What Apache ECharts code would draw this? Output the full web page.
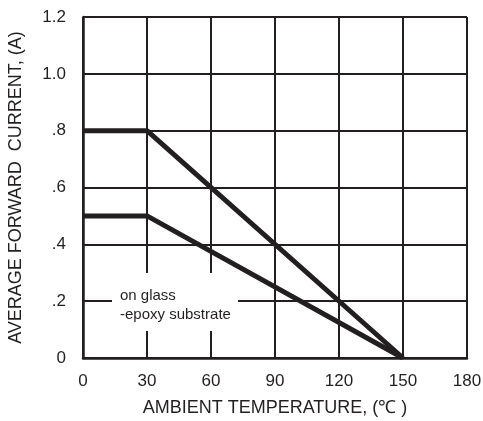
<!DOCTYPE html>
<html><head><meta charset="utf-8">
<script src="https://cdn.jsdelivr.net/npm/echarts@6/dist/echarts.min.js"></script>
<style>html,body{margin:0;padding:0;background:#fff}#c{width:483px;height:421px}</style>
</head><body><div id="c"></div>
<script>
const xTicks = [0, 30, 60, 90, 120, 150, 180];
const yTickLabels = {"0":"0","0.2":".2","0.4":".4","0.6":".6","0.8":".8","1":"1.0","1.2":"1.2"};
const glassEpoxyX = [0, 30, 150];
const glassEpoxyY = [0.5, 0.5, 0];
const upperX = [0, 30, 150];
const upperY = [0.8, 0.8, 0];
const xTitle = "AMBIENT TEMPERATURE, (℃ )";
const yTitle = "AVERAGE FORWARD  CURRENT, (A)";
const note = "on glass\n-epoxy substrate";

const FONT = '"Liberation Sans", sans-serif';
const ink = "#231f20";
const chart = echarts.init(document.getElementById('c'), null, {renderer:'canvas'});
const pairs = (xs, ys) => xs.map((x,i)=>[x, ys[i]]);
chart.setOption({
  backgroundColor:'#fff',
  animation:false,
  grid:{left:83, top:17, right:16, bottom:63, show:false, containLabel:false, outerBoundsMode:'none'},
  xAxis:{type:'value', min:0, max:180, interval:30,
    axisLine:{show:true, onZero:false, lineStyle:{color:ink, width:2.5}},
    axisTick:{show:false},
    splitLine:{show:true, lineStyle:{color:ink, width:2}},
    axisLabel:{color:'#231f20', fontFamily:FONT, fontSize:17, margin:15},
    name:xTitle, nameLocation:'middle', nameGap:41,
    nameTextStyle:{color:'#231f20', fontFamily:FONT, fontSize:18}
  },
  yAxis:{type:'value', min:0, max:1.2, interval:0.2,
    axisLine:{show:true, onZero:false, lineStyle:{color:ink, width:2.5}},
    axisTick:{show:false},
    splitLine:{show:true, lineStyle:{color:ink, width:2}},
    axisLabel:{color:'#231f20', fontFamily:FONT, fontSize:17, margin:17,
      formatter:v=>yTickLabels[String(Math.round(v*10)/10)] ?? ''},
    name:yTitle, nameLocation:'middle', nameGap:58, nameRotate:90,
    nameTextStyle:{color:'#231f20', fontFamily:FONT, fontSize:18}
  },
  series:[
    {type:'line', data:pairs(upperX, upperY), symbol:'none', lineStyle:{color:'#231f20', width:5}, z:3},
    {type:'line', data:pairs(glassEpoxyX, glassEpoxyY), symbol:'none', lineStyle:{color:'#231f20', width:5}, z:3}
  ],
  graphic:[
    {type:'rect', shape:{x:112, y:273, width:126, height:58}, style:{fill:'#fff'}, z:10},
    {type:'text', x:120, y:286, style:{text:note, fill:'#231f20', font:'15px "Liberation Sans"', lineHeight:19}, z:11}
  ]
});
</script></body></html>
